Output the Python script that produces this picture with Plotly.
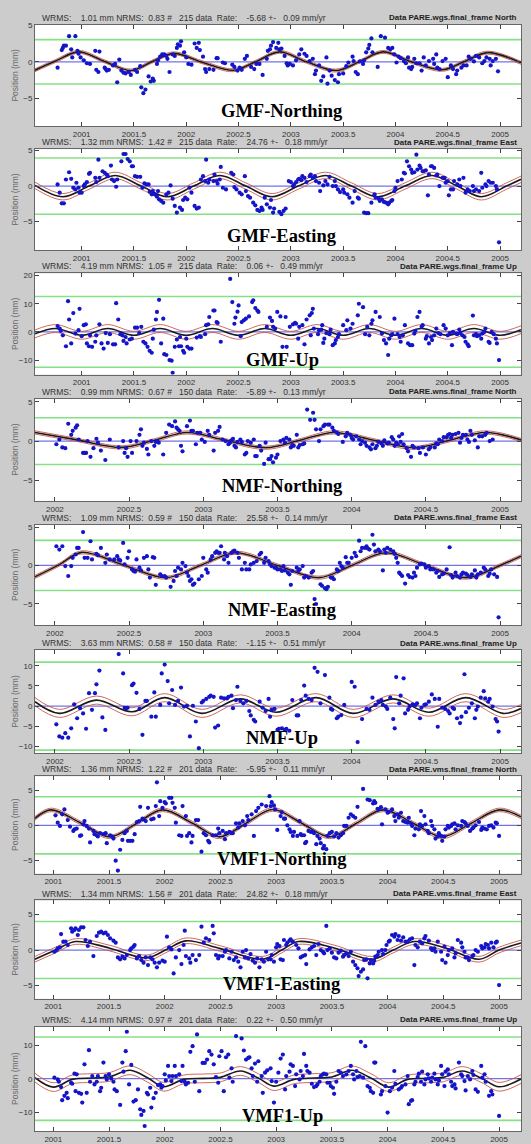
import plotly.graph_objects as go

W, H = 531, 1144

# ---------------- data (decimal year, position in mm) ----------------
GMF_N = [(2000.77,-0.8),(2000.81,1.6),(2000.82,1.9),(2000.83,2.2),(2000.85,2.2),(2000.88,3.5),(2000.94,3.5),(2000.90,1.7),(2000.91,0.6),(2000.96,1.5),(2000.97,1.1),(2000.99,0.6),(2001.02,0.2),(2001.05,-0.2),(2001.08,-0.3),(2001.13,1.5),(2001.17,1.4),(2001.14,-1.1),(2001.16,-1.4),(2001.22,-0.8),(2001.23,-1.0),(2001.24,-1.2),(2001.26,-1.1),(2001.30,-0.5),(2001.32,-0.3),(2001.34,-2.8),(2001.36,0.3),(2001.38,-1.2),(2001.40,-1.5),(2001.42,-1.6),(2001.45,-1.4),(2001.47,-1.8),(2001.51,-1.1),(2001.53,-1.4),(2001.56,-0.6),(2001.57,-3.5),(2001.59,-4.3),(2001.61,-3.8),(2001.64,-2.0),(2001.66,-2.7),(2001.68,-2.3),(2001.69,-2.6),(2001.72,-0.3),(2001.73,0.2),(2001.75,0.7),(2001.77,1.0),(2001.79,1.0),(2001.81,0.8),(2001.82,0.4),(2001.84,-1.4),(2001.87,1.0),(2001.89,0.8),(2001.91,1.9),(2001.92,2.4),(2001.94,2.2),(2001.95,2.8),(2001.98,1.3),(2002.00,0.6),(2002.02,-0.3),(2002.05,-0.4),(2002.08,2.5),(2002.12,2.6),(2002.10,1.9),(2002.13,1.6),(2002.16,0.7),(2002.18,-1.0),(2002.19,-1.4),(2002.22,-1.0),(2002.26,-1.1),(2002.29,0.5),(2002.30,0.5),(2002.35,-0.1),(2002.37,-0.2),(2002.44,-0.4),(2002.46,-0.7),(2002.49,-1.2),(2002.51,-0.8),(2002.53,-1.1),(2002.56,0.4),(2002.58,0.8),(2002.62,-0.7),(2002.65,-1.0),(2002.67,-0.3),(2002.70,-0.3),(2002.73,-1.8),(2002.77,0.4),(2002.78,1.5),(2002.80,1.7),(2002.81,2.2),(2002.83,2.7),(2002.86,1.9),(2002.88,2.6),(2002.89,1.7),(2002.91,1.8),(2002.94,0.8),(2002.96,-0.2),(2002.97,-0.5),(2002.99,-0.3),(2003.02,-0.5),(2003.05,0.2),(2003.08,1.0),(2003.10,1.7),(2003.13,1.1),(2003.15,0.8),(2003.18,0.1),(2003.21,0.4),(2003.23,-1.7),(2003.24,-1.2),(2003.27,-0.5),(2003.29,-2.6),(2003.31,-2.0),(2003.34,0.6),(2003.35,-3.0),(2003.37,-1.2),(2003.39,-1.9),(2003.42,-2.5),(2003.45,-2.8),(2003.46,-1.7),(2003.50,-1.6),(2003.53,-0.6),(2003.55,-0.1),(2003.59,0.7),(2003.60,0.1),(2003.62,-1.4),(2003.64,-1.7),(2003.66,0.05),(2003.69,-0.3),(2003.70,0.2),(2003.72,1.3),(2003.74,1.8),(2003.75,2.3),(2003.77,3.2),(2003.78,1.3),(2003.83,-0.7),(2003.86,3.5),(2003.90,3.3),(2003.93,1.9),(2003.95,1.7),(2003.97,1.9),(2003.99,1.0),(2004.01,-0.1),(2004.03,0.7),(2004.05,0.5),(2004.08,0.1),(2004.10,-0.2),(2004.12,0.6),(2004.13,-0.8),(2004.15,-1.0),(2004.16,-0.7),(2004.18,0.4),(2004.20,-0.2),(2004.23,-0.2),(2004.25,-1.2),(2004.27,0.6),(2004.29,-0.5),(2004.32,0.1),(2004.36,0.4),(2004.37,-0.3),(2004.39,1.0),(2004.40,-0.8),(2004.42,-1.0),(2004.45,0.1),(2004.48,0.4),(2004.50,-2.1),(2004.53,-0.5),(2004.55,-1.0),(2004.58,-1.7),(2004.59,-1.2),(2004.63,-0.8),(2004.65,-0.5),(2004.68,-0.5),(2004.70,0.7),(2004.72,0.4),(2004.75,0.05),(2004.77,0.8),(2004.80,0.6),(2004.83,-0.2),(2004.85,0.1),(2004.87,0.6),(2004.90,0.4),(2004.91,-0.5),(2004.93,0.1),(2004.96,0.4),(2004.98,-1.3)]

GMF_E = [(2000.77,0.23),(2000.79,-0.93),(2000.81,-2.42),(2000.83,-2.42),(2000.85,0.93),(2000.88,1.95),(2000.90,1.02),(2000.92,-0.23),(2000.94,-0.47),(2000.95,0.47),(2000.97,-0.23),(2000.98,-0.93),(2001.00,-0.93),(2001.02,0.0),(2001.03,0.23),(2001.05,0.56),(2001.07,1.72),(2001.08,1.86),(2001.13,1.16),(2001.14,0.56),(2001.16,3.72),(2001.17,1.16),(2001.20,2.09),(2001.22,1.86),(2001.24,1.63),(2001.25,1.4),(2001.28,2.88),(2001.29,0.93),(2001.31,0.7),(2001.33,-0.09),(2001.34,0.93),(2001.38,3.49),(2001.40,4.51),(2001.42,4.51),(2001.44,3.81),(2001.46,3.49),(2001.48,2.79),(2001.49,2.79),(2001.51,1.4),(2001.53,1.3),(2001.56,1.3),(2001.58,-0.23),(2001.60,0.37),(2001.62,0.23),(2001.64,0.23),(2001.65,-0.79),(2001.67,-1.16),(2001.68,-0.7),(2001.70,-1.16),(2001.72,-1.49),(2001.73,-0.7),(2001.74,-1.86),(2001.76,-2.09),(2001.78,-2.33),(2001.81,-1.16),(2001.83,-0.93),(2001.85,0.09),(2001.87,-1.77),(2001.89,-2.79),(2001.91,-3.72),(2001.94,-3.02),(2001.96,-3.35),(2001.97,-1.95),(2001.99,-1.63),(2002.01,-1.86),(2002.03,-0.23),(2002.05,-0.93),(2002.08,-2.79),(2002.10,-3.16),(2002.12,-3.02),(2002.14,0.93),(2002.16,1.4),(2002.18,0.7),(2002.19,3.72),(2002.21,0.47),(2002.22,0.93),(2002.26,0.7),(2002.27,1.63),(2002.29,0.7),(2002.30,0.33),(2002.32,0.93),(2002.33,2.7),(2002.35,-0.23),(2002.38,-0.47),(2002.43,1.86),(2002.45,1.63),(2002.46,-0.14),(2002.48,-0.47),(2002.51,-0.93),(2002.53,-1.16),(2002.56,1.4),(2002.57,-0.7),(2002.59,-1.4),(2002.61,-1.63),(2002.64,-2.33),(2002.66,-2.7),(2002.68,-3.35),(2002.70,-3.49),(2002.72,-3.02),(2002.73,-3.35),(2002.75,-1.63),(2002.77,-2.56),(2002.80,-3.02),(2002.81,-1.95),(2002.83,-3.72),(2002.84,-3.16),(2002.89,-3.63),(2002.91,-3.95),(2002.93,-3.49),(2002.95,-3.16),(2002.98,0.7),(2003.00,0.56),(2003.02,0.0),(2003.03,0.23),(2003.05,0.56),(2003.07,0.93),(2003.08,1.02),(2003.10,0.84),(2003.11,1.4),(2003.13,1.16),(2003.15,0.56),(2003.18,1.4),(2003.19,1.63),(2003.21,1.16),(2003.23,1.4),(2003.24,0.7),(2003.27,0.47),(2003.28,-0.7),(2003.31,0.09),(2003.33,0.7),(2003.35,0.23),(2003.37,1.3),(2003.40,0.0),(2003.42,0.7),(2003.43,0.0),(2003.45,-0.47),(2003.47,-0.84),(2003.50,-0.47),(2003.51,-0.93),(2003.54,-1.16),(2003.56,-1.63),(2003.59,-2.33),(2003.61,-0.7),(2003.64,-1.63),(2003.65,-1.77),(2003.70,-3.72),(2003.72,-3.81),(2003.74,-3.81),(2003.77,-2.33),(2003.80,-1.16),(2003.81,-1.63),(2003.84,-1.77),(2003.85,-2.09),(2003.87,-1.86),(2003.89,-2.23),(2003.91,-2.33),(2003.93,-2.56),(2003.94,-2.33),(2003.96,-2.09),(2003.97,-1.95),(2003.99,-0.7),(2004.00,-0.23),(2004.02,0.7),(2004.06,0.93),(2004.08,1.86),(2004.09,1.77),(2004.11,3.49),(2004.13,2.79),(2004.15,2.33),(2004.16,1.86),(2004.18,1.95),(2004.20,4.42),(2004.21,2.33),(2004.23,2.88),(2004.24,2.56),(2004.26,2.09),(2004.27,2.09),(2004.29,2.23),(2004.31,-1.3),(2004.32,1.63),(2004.34,2.79),(2004.35,2.79),(2004.37,2.56),(2004.39,1.49),(2004.40,1.63),(2004.42,0.0),(2004.45,1.16),(2004.47,1.16),(2004.48,0.47),(2004.50,0.7),(2004.51,-1.3),(2004.53,-0.47),(2004.55,-0.47),(2004.56,0.7),(2004.59,0.23),(2004.61,0.93),(2004.62,0.0),(2004.65,1.16),(2004.67,-0.93),(2004.69,-0.47),(2004.71,-0.7),(2004.74,0.0),(2004.75,-0.7),(2004.77,-0.47),(2004.80,-0.7),(2004.82,1.86),(2004.83,-0.23),(2004.86,0.23),(2004.87,0.0),(2004.89,0.7),(2004.91,0.47),(2004.93,0.47),(2004.96,0.0),(2004.97,-0.47),(2004.99,-7.9)]

GMF_U = [(2000.77,2.1),(2000.79,1.2),(2000.80,0.4),(2000.82,-1.2),(2000.85,-5.1),(2000.87,10.9),(2000.88,4.4),(2000.90,-4.1),(2000.92,6.7),(2000.94,-0.6),(2000.97,0.6),(2000.98,8.2),(2001.00,-1.5),(2001.02,2.4),(2001.04,2.7),(2001.05,-4.1),(2001.07,-5.1),(2001.08,-1.2),(2001.10,-5.3),(2001.13,-3.5),(2001.14,-1.2),(2001.17,2.7),(2001.19,-4.1),(2001.21,-5.9),(2001.23,-0.4),(2001.25,-3.9),(2001.27,-0.8),(2001.30,-4.4),(2001.32,-4.4),(2001.33,10.2),(2001.35,4.4),(2001.37,-0.8),(2001.39,-1.2),(2001.40,-3.2),(2001.42,-1.8),(2001.43,-4.1),(2001.46,-2.7),(2001.48,-2.4),(2001.51,1.5),(2001.53,1.5),(2001.55,-0.4),(2001.57,1.8),(2001.59,-3.5),(2001.61,-4.1),(2001.63,-5.3),(2001.65,-6.7),(2001.67,-7.4),(2001.68,-2.4),(2001.69,0.8),(2001.71,4.4),(2001.72,7.1),(2001.74,11.4),(2001.76,-4.1),(2001.78,4.7),(2001.79,-7.9),(2001.81,-8.2),(2001.84,-10.0),(2001.86,-10.2),(2001.87,-14.5),(2001.89,-5.3),(2001.91,-2.7),(2001.93,-5.1),(2001.94,-1.8),(2001.95,-5.1),(2001.97,-6.7),(2001.98,-7.4),(2002.00,-2.4),(2002.01,-5.3),(2002.03,-5.9),(2002.05,-5.9),(2002.10,-2.0),(2002.13,-1.5),(2002.14,-1.8),(2002.18,-0.8),(2002.19,2.4),(2002.21,2.7),(2002.22,5.3),(2002.26,7.6),(2002.27,7.6),(2002.29,3.5),(2002.30,3.2),(2002.33,-3.5),(2002.42,18.8),(2002.44,10.6),(2002.46,2.9),(2002.47,5.1),(2002.49,7.2),(2002.50,9.4),(2002.52,-1.5),(2002.53,3.5),(2002.55,4.1),(2002.57,4.7),(2002.60,5.5),(2002.63,10.6),(2002.64,11.2),(2002.66,8.5),(2002.68,7.6),(2002.69,7.1),(2002.77,1.8),(2002.80,5.1),(2002.82,3.9),(2002.83,1.8),(2002.85,1.2),(2002.87,7.1),(2002.90,5.5),(2002.92,-5.3),(2002.95,5.3),(2002.96,-5.3),(2002.99,1.8),(2003.02,2.7),(2003.04,3.2),(2003.05,2.9),(2003.07,-2.4),(2003.08,1.8),(2003.11,2.4),(2003.13,-4.4),(2003.15,4.4),(2003.18,5.9),(2003.19,-1.2),(2003.20,6.7),(2003.21,8.2),(2003.22,1.2),(2003.26,-0.8),(2003.27,0.6),(2003.29,0.8),(2003.30,2.4),(2003.31,-3.9),(2003.32,-2.4),(2003.34,-0.4),(2003.37,-0.8),(2003.38,0.8),(2003.40,-4.7),(2003.42,-4.1),(2003.43,-2.9),(2003.45,-1.8),(2003.46,-0.8),(2003.50,2.4),(2003.53,0.6),(2003.54,4.1),(2003.57,1.2),(2003.59,2.9),(2003.64,5.9),(2003.65,10.0),(2003.69,8.8),(2003.71,-0.8),(2003.73,1.8),(2003.75,-1.2),(2003.77,2.9),(2003.78,4.1),(2003.81,7.1),(2003.85,5.3),(2003.87,-0.6),(2003.89,-2.9),(2003.91,-4.1),(2003.93,-8.2),(2003.94,-2.4),(2003.96,-1.2),(2003.97,-0.8),(2003.99,4.7),(2004.02,-0.8),(2004.04,-1.8),(2004.05,-3.5),(2004.07,-1.2),(2004.09,2.4),(2004.12,-4.1),(2004.14,-4.7),(2004.16,-4.7),(2004.18,-0.6),(2004.19,0.4),(2004.21,5.3),(2004.23,7.1),(2004.25,1.8),(2004.26,2.4),(2004.29,-2.4),(2004.30,-1.5),(2004.32,-4.1),(2004.34,-1.8),(2004.35,-2.9),(2004.37,-1.2),(2004.39,1.2),(2004.41,-0.4),(2004.43,-0.8),(2004.46,2.4),(2004.48,1.2),(2004.50,-1.2),(2004.52,-0.4),(2004.54,-4.7),(2004.55,0.0),(2004.58,-0.6),(2004.59,-0.8),(2004.61,0.8),(2004.62,-0.4),(2004.64,-1.2),(2004.66,-1.8),(2004.67,-3.5),(2004.69,-4.4),(2004.70,-5.1),(2004.74,5.8),(2004.75,-1.2),(2004.77,-0.8),(2004.78,-1.5),(2004.80,-1.2),(2004.82,-2.4),(2004.83,-0.6),(2004.85,0.0),(2004.86,1.2),(2004.89,-3.5),(2004.90,-3.9),(2004.92,0.0),(2004.94,-0.8),(2004.96,-2.4),(2004.97,-4.1),(2004.99,-10.0)]

NMF_N = [(2002.01,-0.4),(2002.03,0.2),(2002.05,-0.8),(2002.07,-0.9),(2002.09,2.2),(2002.11,0.8),(2002.12,1.3),(2002.14,1.7),(2002.15,2.0),(2002.16,0.2),(2002.19,-1.5),(2002.20,-1.5),(2002.21,-1.5),(2002.22,0.0),(2002.24,-2.0),(2002.26,-0.9),(2002.28,0.3),(2002.29,-0.2),(2002.31,-1.2),(2002.34,-2.4),(2002.37,0.2),(2002.43,-0.8),(2002.46,0.0),(2002.47,-1.5),(2002.48,-0.9),(2002.49,-2.0),(2002.51,0.0),(2002.52,-1.5),(2002.55,0.0),(2002.57,0.8),(2002.58,1.5),(2002.59,-0.6),(2002.60,-0.2),(2002.62,-1.0),(2002.63,-1.7),(2002.65,0.0),(2002.67,-0.6),(2002.68,-0.1),(2002.69,0.0),(2002.70,-0.2),(2002.73,-1.7),(2002.75,1.05),(2002.77,2.1),(2002.79,1.9),(2002.81,2.5),(2002.82,1.7),(2002.83,1.5),(2002.84,1.3),(2002.85,-0.6),(2002.86,-1.3),(2002.89,1.9),(2002.91,2.6),(2002.92,1.3),(2002.93,1.3),(2002.95,-0.4),(2002.96,1.05),(2002.98,1.05),(2002.99,0.2),(2003.01,-0.1),(2003.03,1.3),(2003.04,0.8),(2003.07,-1.2),(2003.08,1.05),(2003.10,1.3),(2003.11,1.8),(2003.13,0.2),(2003.15,0.0),(2003.17,-0.4),(2003.18,-0.2),(2003.19,0.1),(2003.20,0.3),(2003.21,-0.6),(2003.22,-0.8),(2003.23,-0.1),(2003.25,0.2),(2003.26,-0.1),(2003.28,-1.7),(2003.29,-1.5),(2003.30,0.0),(2003.32,-0.2),(2003.34,0.2),(2003.35,-1.9),(2003.36,-1.9),(2003.38,-0.6),(2003.39,-1.2),(2003.41,-2.9),(2003.42,-0.2),(2003.44,-2.3),(2003.45,-2.3),(2003.46,-1.9),(2003.47,-2.7),(2003.49,-2.1),(2003.50,-1.7),(2003.52,0.0),(2003.54,0.2),(2003.55,-0.2),(2003.56,0.4),(2003.58,0.2),(2003.59,-0.8),(2003.60,-0.5),(2003.61,-0.6),(2003.63,0.8),(2003.64,-0.8),(2003.65,-0.5),(2003.67,-0.4),(2003.68,-0.3),(2003.70,4.0),(2003.72,2.7),(2003.74,3.6),(2003.75,2.7),(2003.76,1.5),(2003.78,0.0),(2003.79,1.5),(2003.81,1.9),(2003.82,2.1),(2003.84,2.1),(2003.85,2.1),(2003.87,1.7),(2003.88,1.3),(2003.90,1.1),(2003.91,0.9),(2003.94,-0.1),(2003.96,0.6),(2003.97,1.05),(2003.99,0.8),(2004.00,0.4),(2004.01,0.2),(2004.03,0.6),(2004.05,0.2),(2004.06,-0.4),(2004.07,0.0),(2004.09,-0.2),(2004.10,-0.6),(2004.12,-0.8),(2004.13,-1.05),(2004.14,-0.4),(2004.16,-0.9),(2004.17,-0.6),(2004.18,-0.1),(2004.20,-0.3),(2004.21,-0.6),(2004.22,0.1),(2004.24,-0.3),(2004.25,-0.2),(2004.27,0.5),(2004.28,0.2),(2004.29,-0.6),(2004.30,-0.2),(2004.31,-0.4),(2004.32,0.6),(2004.33,-0.1),(2004.34,0.9),(2004.35,-0.4),(2004.37,-0.9),(2004.38,-1.3),(2004.40,-2.0),(2004.41,-0.6),(2004.42,-0.8),(2004.45,-0.9),(2004.46,-1.5),(2004.48,-0.8),(2004.50,-1.7),(2004.52,-1.05),(2004.53,-0.8),(2004.56,-0.8),(2004.57,-0.3),(2004.58,-0.4),(2004.59,0.2),(2004.61,0.0),(2004.62,0.5),(2004.64,0.5),(2004.65,0.8),(2004.66,0.9),(2004.67,0.4),(2004.68,0.8),(2004.70,0.9),(2004.72,1.05),(2004.73,-0.2),(2004.74,0.4),(2004.75,0.8),(2004.77,0.8),(2004.78,0.2),(2004.79,-0.1),(2004.80,1.3),(2004.81,0.8),(2004.83,0.1),(2004.85,-0.8),(2004.86,0.6),(2004.88,0.6),(2004.90,0.8),(2004.91,1.05),(2004.93,0.0),(2004.95,0.2)]

NMF_E = [(2002.01,2.5),(2002.03,2.07),(2002.05,2.5),(2002.07,-0.09),(2002.09,-1.38),(2002.11,-0.09),(2002.12,0.99),(2002.14,1.42),(2002.15,2.28),(2002.16,2.28),(2002.19,4.35),(2002.20,0.99),(2002.22,0.99),(2002.24,3.15),(2002.25,0.78),(2002.28,1.51),(2002.29,1.34),(2002.31,2.28),(2002.34,0.34),(2002.35,1.42),(2002.37,0.78),(2002.40,0.78),(2002.42,1.21),(2002.43,0.78),(2002.44,0.65),(2002.46,2.93),(2002.47,0.13),(2002.49,0.99),(2002.50,1.85),(2002.52,-0.52),(2002.53,-0.73),(2002.54,-0.82),(2002.55,0.78),(2002.57,-0.3),(2002.58,-0.65),(2002.60,0.99),(2002.62,1.21),(2002.63,-0.52),(2002.64,-1.59),(2002.66,1.08),(2002.67,0.99),(2002.68,-2.54),(2002.71,-1.16),(2002.72,-1.38),(2002.74,-1.38),(2002.75,-1.59),(2002.78,-2.8),(2002.80,-2.03),(2002.81,-0.73),(2002.82,-1.38),(2002.83,-0.3),(2002.85,-0.52),(2002.86,0.34),(2002.88,-0.09),(2002.89,-0.95),(2002.90,-1.38),(2002.91,-2.03),(2002.92,-1.81),(2002.93,-2.54),(2002.94,-2.37),(2002.97,-1.81),(2002.99,-1.38),(2003.00,0.99),(2003.02,-0.52),(2003.03,-0.95),(2003.05,0.78),(2003.06,1.21),(2003.08,1.64),(2003.09,1.85),(2003.10,1.64),(2003.11,1.64),(2003.12,2.5),(2003.14,0.78),(2003.145,1.64),(2003.16,1.21),(2003.17,0.34),(2003.19,1.64),(2003.20,1.85),(2003.21,1.94),(2003.23,1.64),(2003.24,0.99),(2003.26,-0.52),(2003.28,0.34),(2003.29,-0.52),(2003.31,-0.52),(2003.32,0.13),(2003.34,0.34),(2003.36,0.56),(2003.38,1.42),(2003.39,1.64),(2003.41,0.34),(2003.42,0.99),(2003.44,0.56),(2003.45,0.13),(2003.46,-0.09),(2003.48,-0.3),(2003.49,-0.3),(2003.50,-0.52),(2003.52,-0.52),(2003.53,-0.73),(2003.54,-0.09),(2003.55,-0.65),(2003.57,-0.95),(2003.58,-1.16),(2003.59,-2.54),(2003.60,-0.73),(2003.63,-0.3),(2003.64,-0.73),(2003.65,-0.52),(2003.67,-0.09),(2003.68,-1.59),(2003.69,-1.38),(2003.71,-1.59),(2003.73,-0.95),(2003.74,-0.73),(2003.75,-4.4),(2003.76,-5.04),(2003.79,-2.46),(2003.80,-2.67),(2003.82,-2.97),(2003.83,-3.1),(2003.84,-2.8),(2003.86,-1.59),(2003.87,-1.59),(2003.88,-1.81),(2003.90,-0.52),(2003.91,-0.73),(2003.92,0.34),(2003.93,-0.09),(2003.94,-0.3),(2003.96,1.08),(2003.97,0.34),(2003.98,0.34),(2004.00,0.99),(2004.02,1.64),(2004.03,1.21),(2004.05,3.23),(2004.06,1.85),(2004.07,2.28),(2004.09,2.28),(2004.10,2.5),(2004.11,2.2),(2004.12,2.07),(2004.14,4.0),(2004.15,2.72),(2004.16,1.85),(2004.18,2.07),(2004.19,1.85),(2004.21,-0.65),(2004.22,2.07),(2004.23,1.64),(2004.24,2.28),(2004.26,2.07),(2004.28,1.85),(2004.29,1.51),(2004.30,0.99),(2004.31,0.34),(2004.32,-0.95),(2004.33,-1.16),(2004.34,-1.38),(2004.36,-2.37),(2004.38,-1.25),(2004.39,-1.51),(2004.41,-1.59),(2004.42,-0.95),(2004.43,-1.38),(2004.44,-0.3),(2004.46,0.13),(2004.47,0.22),(2004.49,0.13),(2004.50,-0.3),(2004.52,-0.09),(2004.53,-0.52),(2004.55,-0.52),(2004.57,-0.95),(2004.58,-0.73),(2004.59,-1.51),(2004.61,-1.16),(2004.62,-1.08),(2004.64,-0.52),(2004.66,2.37),(2004.67,-1.25),(2004.68,-1.59),(2004.70,-0.95),(2004.71,-1.38),(2004.73,-1.59),(2004.74,-1.16),(2004.75,-0.95),(2004.77,-1.08),(2004.78,-1.25),(2004.80,-1.51),(2004.81,-1.16),(2004.83,-0.65),(2004.84,-1.59),(2004.85,-1.16),(2004.87,-0.95),(2004.89,-0.3),(2004.90,-0.52),(2004.92,-1.38),(2004.93,-1.08),(2004.94,-0.52),(2004.96,-1.16),(2004.98,-1.51),(2004.99,-6.77)]

NMF_U = [(2002.01,-4.5),(2002.03,-7.5),(2002.05,-7.8),(2002.07,-6.7),(2002.09,-7.8),(2002.11,-5.5),(2002.13,0.45),(2002.15,-3.0),(2002.17,-0.5),(2002.19,-1.8),(2002.21,-5.6),(2002.23,3.2),(2002.25,-0.9),(2002.27,3.2),(2002.28,5.4),(2002.30,8.8),(2002.32,-2.8),(2002.34,-5.9),(2002.43,12.9),(2002.46,8.1),(2002.47,-0.4),(2002.48,-0.5),(2002.49,-0.4),(2002.52,5.2),(2002.53,5.6),(2002.55,3.3),(2002.57,-0.7),(2002.59,-7.1),(2002.61,1.3),(2002.62,1.3),(2002.65,-2.6),(2002.67,3.4),(2002.68,-2.6),(2002.71,0.3),(2002.72,8.1),(2002.74,10.3),(2002.76,6.2),(2002.77,0.7),(2002.79,4.0),(2002.81,0.3),(2002.83,1.3),(2002.85,4.6),(2002.87,-0.1),(2002.89,0.1),(2002.91,-7.5),(2002.93,0.1),(2002.95,-3.8),(2002.97,-10.4),(2002.99,0.9),(2003.00,1.3),(2003.02,1.8),(2003.04,2.3),(2003.05,2.6),(2003.07,2.3),(2003.08,-5.3),(2003.10,-4.8),(2003.12,2.1),(2003.14,1.9),(2003.16,1.9),(2003.17,2.3),(2003.19,2.6),(2003.20,-0.5),(2003.22,1.5),(2003.23,4.8),(2003.25,1.3),(2003.27,0.7),(2003.29,1.3),(2003.31,-1.2),(2003.32,-2.3),(2003.34,-3.4),(2003.35,-3.8),(2003.38,1.1),(2003.40,-0.4),(2003.42,-1.2),(2003.44,1.8),(2003.45,-2.6),(2003.46,-0.9),(2003.48,-0.7),(2003.50,-5.9),(2003.51,-5.6),(2003.53,-5.5),(2003.55,-5.9),(2003.56,-5.6),(2003.58,-6.1),(2003.60,1.5),(2003.63,-2.3),(2003.64,-2.3),(2003.66,1.5),(2003.68,5.1),(2003.69,2.6),(2003.71,1.8),(2003.73,1.5),(2003.75,9.5),(2003.77,8.5),(2003.79,0.7),(2003.82,7.7),(2003.85,2.1),(2003.86,-0.7),(2003.87,-0.9),(2003.90,-3.0),(2003.91,-2.6),(2003.93,-2.2),(2003.95,0.3),(2004.00,6.0),(2004.02,4.8),(2004.04,-8.9),(2004.07,-3.2),(2004.10,-0.7),(2004.12,-0.9),(2004.14,2.1),(2004.16,0.3),(2004.18,1.1),(2004.20,1.5),(2004.21,0.3),(2004.23,-0.1),(2004.24,-0.7),(2004.26,2.1),(2004.28,-3.2),(2004.29,-5.5),(2004.30,7.2),(2004.32,0.7),(2004.33,2.6),(2004.35,6.9),(2004.36,-1.8),(2004.38,-0.9),(2004.39,-0.1),(2004.41,0.45),(2004.43,0.3),(2004.44,0.7),(2004.46,-3.0),(2004.47,-0.4),(2004.49,0.3),(2004.50,0.45),(2004.52,1.1),(2004.54,2.9),(2004.56,1.8),(2004.58,-5.1),(2004.59,1.8),(2004.61,-0.4),(2004.63,-0.7),(2004.65,-1.2),(2004.66,-1.8),(2004.68,-0.4),(2004.69,-0.7),(2004.71,-3.0),(2004.73,-4.2),(2004.74,-2.6),(2004.76,7.9),(2004.77,-1.5),(2004.79,-0.4),(2004.81,0.7),(2004.83,-3.0),(2004.84,-0.9),(2004.85,-0.1),(2004.87,2.1),(2004.89,3.7),(2004.90,1.9),(2004.92,1.1),(2004.93,1.8),(2004.95,-0.1),(2004.97,-3.2),(2004.98,-3.8),(2004.99,-6.3)]

VMF_N = [(2001.02,1.42),(2001.04,0.38),(2001.06,-0.09),(2001.08,1.56),(2001.10,2.26),(2001.13,0.75),(2001.15,-0.19),(2001.18,-0.8),(2001.19,-0.57),(2001.21,-0.47),(2001.24,-1.51),(2001.25,-1.42),(2001.27,0.14),(2001.28,0.61),(2001.30,-0.09),(2001.32,-0.47),(2001.33,-2.45),(2001.36,-0.8),(2001.37,-1.27),(2001.39,-1.42),(2001.40,-1.6),(2001.42,-1.13),(2001.45,-1.27),(2001.47,-1.13),(2001.48,-2.55),(2001.51,-1.42),(2001.53,-1.6),(2001.54,-1.89),(2001.56,-5.05),(2001.58,-6.46),(2001.60,-3.49),(2001.62,-2.08),(2001.64,-1.13),(2001.66,-0.8),(2001.67,-2.22),(2001.69,-2.22),(2001.71,-2.22),(2001.73,-1.27),(2001.75,0.47),(2001.77,0.61),(2001.78,2.64),(2001.80,0.94),(2001.81,0.85),(2001.83,0.61),(2001.85,2.5),(2001.88,0.85),(2001.90,0.94),(2001.92,2.74),(2001.93,6.13),(2001.95,1.32),(2001.96,3.44),(2001.98,2.5),(2002.00,3.3),(2002.01,3.11),(2002.04,3.92),(2002.06,3.92),(2002.07,3.21),(2002.09,2.5),(2002.10,0.38),(2002.13,-1.42),(2002.15,-1.51),(2002.16,2.74),(2002.19,1.32),(2002.20,-1.51),(2002.22,-1.13),(2002.24,-2.45),(2002.25,-1.51),(2002.28,0.75),(2002.30,0.75),(2002.33,-3.77),(2002.35,-1.13),(2002.37,-1.42),(2002.39,-2.22),(2002.40,-2.45),(2002.43,-1.42),(2002.46,-1.42),(2002.48,-0.47),(2002.49,-1.13),(2002.52,-0.8),(2002.54,-1.98),(2002.55,-1.13),(2002.58,-0.94),(2002.60,-1.13),(2002.61,-1.13),(2002.64,0.28),(2002.66,-0.33),(2002.67,0.28),(2002.70,0.61),(2002.72,0.0),(2002.74,1.32),(2002.75,0.75),(2002.78,1.56),(2002.80,-1.51),(2002.82,2.03),(2002.84,2.5),(2002.87,2.97),(2002.91,2.74),(2002.94,4.15),(2002.95,2.74),(2002.96,3.3),(2002.98,2.83),(2002.99,2.26),(2003.01,-0.66),(2003.04,1.32),(2003.05,1.89),(2003.07,0.94),(2003.08,0.94),(2003.10,0.0),(2003.12,-0.57),(2003.13,-0.94),(2003.15,-1.51),(2003.16,-0.94),(2003.19,-1.51),(2003.21,0.61),(2003.22,-1.27),(2003.23,-1.42),(2003.25,-1.42),(2003.26,-2.55),(2003.27,-2.36),(2003.29,-0.8),(2003.31,-0.94),(2003.33,-0.94),(2003.34,-1.13),(2003.36,-2.69),(2003.37,-1.51),(2003.39,-1.89),(2003.40,-2.55),(2003.42,-3.3),(2003.43,-2.92),(2003.45,-3.4),(2003.46,-1.51),(2003.48,-1.13),(2003.50,-0.94),(2003.52,-1.6),(2003.54,-1.13),(2003.56,-1.75),(2003.58,-1.42),(2003.60,-1.13),(2003.61,-0.09),(2003.63,-0.09),(2003.65,1.08),(2003.67,1.56),(2003.69,1.32),(2003.71,1.08),(2003.73,2.64),(2003.78,5.19),(2003.82,3.68),(2003.84,3.58),(2003.87,3.11),(2003.88,3.44),(2003.89,3.21),(2003.91,2.36),(2003.92,2.26),(2003.94,2.59),(2003.95,0.14),(2003.98,2.26),(2004.00,1.79),(2004.01,1.89),(2004.04,2.26),(2004.06,1.32),(2004.07,0.61),(2004.09,1.56),(2004.10,1.08),(2004.12,1.79),(2004.14,0.61),(2004.16,0.47),(2004.18,0.38),(2004.19,1.08),(2004.21,0.28),(2004.22,-0.09),(2004.24,-1.42),(2004.25,-0.47),(2004.28,-0.57),(2004.29,0.14),(2004.30,2.03),(2004.31,-0.09),(2004.33,1.32),(2004.34,0.14),(2004.36,-0.8),(2004.37,-1.13),(2004.39,0.61),(2004.40,-0.09),(2004.42,-0.57),(2004.43,-1.89),(2004.45,-1.6),(2004.46,-1.13),(2004.48,-1.51),(2004.49,-2.22),(2004.51,-1.6),(2004.52,-0.57),(2004.54,-0.09),(2004.55,-0.33),(2004.57,-0.09),(2004.58,0.14),(2004.60,0.28),(2004.61,-0.57),(2004.63,0.0),(2004.66,-0.09),(2004.67,0.61),(2004.69,0.47),(2004.70,0.28),(2004.72,-0.09),(2004.74,-0.8),(2004.76,-0.47),(2004.77,-0.33),(2004.79,0.0),(2004.82,0.47),(2004.84,-0.66),(2004.85,-0.33),(2004.87,-0.47),(2004.89,-0.57),(2004.91,-0.09),(2004.93,0.0),(2004.95,-0.33),(2004.97,0.38),(2004.98,0.28),(2005.00,-1.51)]

VMF_E = [(2001.01,-0.24),(2001.03,0.0),(2001.04,0.24),(2001.06,0.38),(2001.07,2.26),(2001.09,1.18),(2001.11,1.18),(2001.13,0.71),(2001.16,3.07),(2001.17,2.59),(2001.19,2.83),(2001.20,3.07),(2001.22,2.12),(2001.23,2.83),(2001.25,3.21),(2001.27,3.21),(2001.29,1.42),(2001.31,0.57),(2001.33,1.18),(2001.36,-0.85),(2001.39,1.98),(2001.41,2.45),(2001.43,2.59),(2001.45,2.36),(2001.47,2.45),(2001.49,2.12),(2001.51,1.65),(2001.54,1.32),(2001.56,1.04),(2001.58,-1.04),(2001.60,-1.32),(2001.62,-0.94),(2001.64,-1.18),(2001.66,-0.71),(2001.69,0.0),(2001.70,0.24),(2001.72,0.47),(2001.73,0.71),(2001.75,-1.18),(2001.77,-0.85),(2001.79,-1.42),(2001.81,-1.79),(2001.83,-1.04),(2001.85,-2.12),(2001.87,-1.04),(2001.89,-1.32),(2001.91,-1.79),(2001.93,-2.45),(2001.95,-1.79),(2001.98,-1.51),(2002.00,-1.65),(2002.02,1.89),(2002.04,0.38),(2002.06,0.09),(2002.08,-3.3),(2002.10,-1.04),(2002.13,0.0),(2002.15,-1.98),(2002.17,0.71),(2002.18,2.74),(2002.19,-0.85),(2002.22,-1.18),(2002.23,-1.79),(2002.25,-0.71),(2002.28,-1.42),(2002.31,-0.71),(2002.33,3.3),(2002.35,1.04),(2002.37,1.65),(2002.40,1.42),(2002.43,3.4),(2002.44,2.36),(2002.46,-0.71),(2002.48,-1.18),(2002.49,-0.85),(2002.52,-0.85),(2002.54,-0.24),(2002.55,0.0),(2002.58,-1.18),(2002.60,-0.24),(2002.62,-1.42),(2002.64,-1.04),(2002.66,-1.65),(2002.68,-2.45),(2002.70,-0.24),(2002.72,-1.04),(2002.73,0.0),(2002.75,-1.18),(2002.77,-0.57),(2002.79,-1.51),(2002.81,-1.79),(2002.83,-1.18),(2002.85,-2.45),(2002.87,-1.32),(2002.89,-1.65),(2002.91,-0.24),(2002.93,-1.32),(2002.95,-1.32),(2002.96,-0.71),(2002.98,-1.65),(2003.00,0.38),(2003.01,0.85),(2003.03,0.57),(2003.04,-1.32),(2003.06,-1.42),(2003.07,1.42),(2003.09,0.71),(2003.10,1.04),(2003.12,1.32),(2003.13,1.51),(2003.15,1.18),(2003.18,0.71),(2003.20,0.24),(2003.22,-1.04),(2003.24,-0.85),(2003.26,-0.71),(2003.27,-1.98),(2003.30,0.09),(2003.32,0.38),(2003.34,0.57),(2003.36,-0.71),(2003.38,0.85),(2003.40,0.0),(2003.42,-0.24),(2003.43,-0.47),(2003.45,3.4),(2003.46,0.0),(2003.48,0.24),(2003.50,-0.38),(2003.52,-1.04),(2003.54,-1.18),(2003.56,-0.38),(2003.58,-0.09),(2003.60,-0.94),(2003.61,-0.71),(2003.63,-0.47),(2003.65,-0.85),(2003.67,-0.24),(2003.69,-1.65),(2003.71,-2.12),(2003.73,-2.59),(2003.74,-3.68),(2003.76,-3.07),(2003.78,-2.74),(2003.79,-1.42),(2003.81,-1.32),(2003.82,-4.0),(2003.84,-1.89),(2003.85,-1.42),(2003.87,-1.89),(2003.88,-1.51),(2003.89,-0.94),(2003.91,-0.71),(2003.92,-0.24),(2003.95,0.0),(2003.96,-0.57),(2003.98,0.0),(2003.99,0.71),(2004.01,1.18),(2004.02,1.32),(2004.04,2.12),(2004.06,1.89),(2004.07,2.26),(2004.09,1.42),(2004.10,1.98),(2004.12,1.32),(2004.14,1.79),(2004.16,1.18),(2004.18,1.18),(2004.20,1.51),(2004.22,1.65),(2004.24,-2.12),(2004.25,0.71),(2004.27,0.38),(2004.29,1.18),(2004.31,0.94),(2004.33,1.65),(2004.34,1.98),(2004.37,1.32),(2004.39,0.24),(2004.40,0.0),(2004.42,0.24),(2004.43,-0.24),(2004.45,1.18),(2004.48,-0.24),(2004.49,-1.42),(2004.51,0.47),(2004.52,-1.79),(2004.54,-0.71),(2004.55,0.0),(2004.58,0.24),(2004.60,-1.04),(2004.61,-0.47),(2004.63,1.42),(2004.66,1.04),(2004.67,0.38),(2004.69,-0.24),(2004.70,-1.04),(2004.72,-1.04),(2004.73,-1.42),(2004.76,-0.85),(2004.77,-0.71),(2004.79,0.0),(2004.81,-0.24),(2004.84,0.57),(2004.85,0.24),(2004.87,0.38),(2004.88,0.85),(2004.90,0.71),(2004.91,0.24),(2004.93,1.04),(2004.95,0.38),(2004.97,1.04),(2004.98,1.18),(2005.00,-4.95)]

VMF_U = [(2001.01,0.3),(2001.04,-0.2),(2001.05,-0.9),(2001.07,-2.5),(2001.08,-6.4),(2001.10,-5.1),(2001.12,-4.2),(2001.13,-5.8),(2001.16,-1.2),(2001.17,-1.5),(2001.19,1.5),(2001.20,-3.7),(2001.21,1.3),(2001.23,-4.2),(2001.25,-4.5),(2001.26,-7.1),(2001.28,4.3),(2001.30,-4.2),(2001.32,8.5),(2001.33,-0.9),(2001.35,0.8),(2001.37,-1.7),(2001.39,-0.9),(2001.40,0.8),(2001.42,-3.7),(2001.43,-2.7),(2001.45,4.8),(2001.47,0.8),(2001.48,-0.2),(2001.50,1.3),(2001.52,0.1),(2001.54,-0.9),(2001.55,-3.2),(2001.57,-3.7),(2001.60,-7.8),(2001.62,4.8),(2001.63,2.1),(2001.65,8.2),(2001.66,14.0),(2001.68,-1.7),(2001.70,4.1),(2001.72,-6.8),(2001.74,-6.4),(2001.76,-3.2),(2001.78,-9.1),(2001.79,-10.8),(2001.81,-9.6),(2001.82,-14.1),(2001.84,-4.2),(2001.85,-4.7),(2001.87,-2.7),(2001.88,-8.6),(2001.90,-5.8),(2001.92,-4.2),(2001.94,-1.9),(2001.96,-1.7),(2001.97,-2.7),(2001.98,-2.2),(2002.00,1.3),(2002.01,-0.5),(2002.03,3.8),(2002.04,0.8),(2002.06,-0.7),(2002.07,0.8),(2002.09,3.8),(2002.10,0.8),(2002.13,1.3),(2002.15,-0.7),(2002.16,3.8),(2002.18,-0.9),(2002.19,-1.7),(2002.21,-1.2),(2002.23,8.0),(2002.25,9.7),(2002.27,-0.9),(2002.29,13.2),(2002.31,-3.7),(2002.34,4.7),(2002.36,4.7),(2002.38,5.7),(2002.40,8.2),(2002.42,7.2),(2002.44,4.3),(2002.46,0.5),(2002.48,-1.2),(2002.49,6.7),(2002.51,8.2),(2002.53,-3.7),(2002.55,6.4),(2002.57,7.2),(2002.58,0.3),(2002.60,3.1),(2002.61,-0.9),(2002.64,12.7),(2002.69,12.0),(2002.71,8.4),(2002.73,5.7),(2002.75,6.2),(2002.76,6.4),(2002.78,3.1),(2002.79,0.8),(2002.81,4.5),(2002.83,-0.9),(2002.84,5.2),(2002.87,0.8),(2002.88,-4.2),(2002.90,1.8),(2002.92,2.5),(2002.95,3.1),(2002.96,-0.7),(2002.98,-7.1),(2003.00,-0.9),(2003.02,1.8),(2003.04,6.0),(2003.06,7.2),(2003.08,-3.2),(2003.09,0.8),(2003.12,2.1),(2003.13,4.3),(2003.15,3.8),(2003.17,-2.2),(2003.18,1.3),(2003.21,-0.2),(2003.22,2.3),(2003.24,0.8),(2003.25,7.4),(2003.27,3.8),(2003.28,2.3),(2003.30,1.8),(2003.32,-1.5),(2003.34,-2.5),(2003.36,-2.2),(2003.37,-1.7),(2003.39,-0.9),(2003.40,0.8),(2003.42,1.3),(2003.43,1.5),(2003.45,1.3),(2003.46,-1.2),(2003.48,-1.2),(2003.49,-2.2),(2003.51,-2.7),(2003.52,-4.5),(2003.54,-0.9),(2003.56,2.3),(2003.58,1.8),(2003.60,0.8),(2003.63,1.3),(2003.65,2.3),(2003.67,3.8),(2003.69,1.3),(2003.70,-0.2),(2003.72,2.3),(2003.73,0.5),(2003.75,0.8),(2003.76,11.0),(2003.78,0.3),(2003.80,9.7),(2003.82,-2.2),(2003.84,-2.7),(2003.85,-3.7),(2003.87,-4.2),(2003.88,4.8),(2003.89,4.8),(2003.94,-4.7),(2003.95,-3.7),(2003.98,-2.2),(2004.00,-10.1),(2004.02,-3.7),(2004.04,-2.7),(2004.06,2.3),(2004.07,-1.5),(2004.10,-3.2),(2004.12,-2.7),(2004.13,-2.2),(2004.16,-1.7),(2004.18,0.8),(2004.19,-7.6),(2004.21,-6.6),(2004.22,-6.4),(2004.24,-1.7),(2004.25,-0.9),(2004.27,0.5),(2004.28,1.5),(2004.30,-0.9),(2004.31,2.1),(2004.33,-1.7),(2004.34,-0.2),(2004.36,1.3),(2004.37,0.1),(2004.39,-0.9),(2004.40,0.3),(2004.42,1.5),(2004.43,-0.2),(2004.45,-1.7),(2004.46,-0.5),(2004.48,3.8),(2004.49,1.3),(2004.51,-2.2),(2004.52,2.1),(2004.54,2.8),(2004.55,1.3),(2004.57,-0.9),(2004.58,-2.2),(2004.60,-1.7),(2004.61,-2.9),(2004.64,4.8),(2004.66,1.3),(2004.67,0.8),(2004.69,-0.7),(2004.70,-3.5),(2004.72,0.8),(2004.74,-0.2),(2004.76,2.3),(2004.77,1.1),(2004.79,-3.2),(2004.81,-3.9),(2004.84,3.8),(2004.85,0.3),(2004.87,1.3),(2004.88,-0.9),(2004.91,-5.1),(2004.93,-3.7),(2004.94,-4.7),(2005.00,-11.1)]

# fitted model curves, read at their peaks, troughs and crossings
FIT_GMF_N = [(2000.554,-1.15),(2000.75,0.1),(2000.97,1.35),(2001.22,0.05),(2001.47,-1.2),(2001.67,0.0),(2001.88,1.15),(2002.15,-0.05),(2002.45,-1.15),(2002.67,0.05),(2002.89,1.35),(2003.15,0.0),(2003.43,-1.2),(2003.66,0.05),(2003.88,1.35),(2004.15,0.0),(2004.45,-1.1),(2004.66,0.05),(2004.88,1.25),(2005.2,-0.15)]
FIT_GMF_E = [(2000.554,0.1),(2000.82,-1.5),(2001.07,0.0),(2001.32,1.5),(2001.57,0.0),(2001.82,-1.5),(2002.07,0.0),(2002.32,1.5),(2002.57,0.0),(2002.82,-1.5),(2003.07,0.0),(2003.33,1.5),(2003.58,0.0),(2003.83,-1.5),(2004.09,0.0),(2004.35,1.5),(2004.59,0.0),(2004.82,-1.5),(2005.06,0.0),(2005.2,0.95)]
FIT_GMF_U = [(2000.554,-0.7),(2000.75,1.2),(2001.0,-1.2),(2001.25,1.2),(2001.5,-1.2),(2001.75,1.2),(2002.0,-1.2),(2002.25,1.2),(2002.5,-1.2),(2002.75,1.2),(2003.0,-1.2),(2003.25,1.2),(2003.5,-1.2),(2003.75,1.2),(2004.0,-1.2),(2004.25,1.2),(2004.5,-1.2),(2004.75,1.2),(2005.0,-1.2),(2005.2,0.8)]
FIT_NMF_N = [(2001.866,1.1),(2002.15,0.15),(2002.45,-0.8),(2002.67,0.1),(2002.89,1.1),(2003.15,0.1),(2003.42,-0.85),(2003.65,0.1),(2003.88,1.1),(2004.15,0.1),(2004.42,-0.85),(2004.66,0.1),(2004.9,1.1),(2005.141,0.15)]
FIT_NMF_E = [(2001.866,-1.5),(2002.03,0.1),(2002.18,1.7),(2002.47,0.0),(2002.75,-1.6),(2002.98,0.0),(2003.22,1.65),(2003.5,0.0),(2003.78,-1.6),(2004.0,0.0),(2004.23,1.65),(2004.5,0.0),(2004.77,-1.6),(2005.0,0.0),(2005.141,1.2)]
FIT_NMF_U = [(2001.866,1.1),(2002.03,-1.8),(2002.28,1.5),(2002.52,-1.4),(2002.74,2.1),(2002.99,-1.8),(2003.25,1.8),(2003.49,-1.5),(2003.76,2.1),(2004.01,-1.8),(2004.28,1.8),(2004.52,-1.5),(2004.77,2.1),(2005.02,-1.8),(2005.141,-0.6)]
FIT_VMF_N = [(2000.836,1.0),(2000.98,2.2),(2001.25,0.3),(2001.51,-1.65),(2001.75,0.3),(2001.98,2.2),(2002.25,0.3),(2002.49,-1.65),(2002.73,0.3),(2002.97,2.25),(2003.23,0.3),(2003.48,-1.65),(2003.72,0.3),(2003.96,2.2),(2004.23,0.3),(2004.49,-1.65),(2004.75,0.3),(2005.0,2.2),(2005.197,1.2)]
FIT_VMF_E = [(2000.836,-1.3),(2001.02,0.0),(2001.2,1.2),(2001.5,0.3),(2001.84,-1.1),(2002.02,0.1),(2002.19,1.3),(2002.5,0.2),(2002.88,-1.3),(2003.05,0.0),(2003.2,1.2),(2003.52,0.3),(2003.86,-1.3),(2004.05,0.0),(2004.24,1.2),(2004.52,0.3),(2004.82,-1.3),(2005.0,0.0),(2005.197,1.0)]
FIT_VMF_U = [(2000.836,0.3),(2001.0,-2.5),(2001.17,-0.2),(2001.35,0.2),(2001.5,0.5),(2001.69,2.5),(2001.85,0.2),(2001.99,-2.4),(2002.17,-0.2),(2002.35,0.1),(2002.5,0.4),(2002.68,2.3),(2002.84,0.2),(2002.98,-2.2),(2003.16,-0.2),(2003.34,0.2),(2003.5,0.5),(2003.68,2.5),(2003.85,0.2),(2004.01,-2.5),(2004.18,-0.2),(2004.36,0.1),(2004.5,0.4),(2004.67,2.3),(2004.84,0.2),(2005.0,-2.4),(2005.197,-0.1)]

# model uncertainty (half width of red band) and 3-sigma limits (green), mm
BAND = [0.2, 0.45, 1.4, 0.2, 0.2, 1.0, 0.25, 0.4, 1.3]
SIGMA3 = [3.03, 3.96, 12.57, 2.97, 3.27, 10.89, 4.08, 4.02, 12.42]

# x tick values (years) for the three station solutions
TICKS_A = [2001, 2001.5, 2002, 2002.5, 2003, 2003.5, 2004, 2004.5, 2005]
TICKS_B = [2002, 2002.5, 2003, 2003.5, 2004, 2004.5, 2005]

LABELS = ["GMF-Northing", "GMF-Easting", "GMF-Up", "NMF-Northing", "NMF-Easting", "NMF-Up",
          "VMF1-Northing", "VMF1-Easting", "VMF1-Up"]
WRMS = ["1.01", "1.32", "4.19", "0.99", "1.09", "3.63", "1.36", "1.34", "4.14"]
NRMS = ["0.83", "1.42", "1.05", "0.67", "0.59", "0.58", "1.22", "1.56", "0.97"]
NDATA = ["215", "215", "215", "150", "150", "150", "201", "201", "201"]
RATE = ["-5.68", "24.76", "0.06", "-5.89", "25.58", "-1.15", "-5.95", "24.82", "0.22"]
RATE_ERR = ["0.09", "0.18", "0.49", "0.13", "0.14", "0.51", "0.11", "0.18", "0.50"]
SOURCE = ["Data PARE.wgs.final_frame North", "Data PARE.wgs.final_frame East", "Data PARE.wgs.final_frame Up",
          "Data PARE.wns.final_frame North", "Data PARE.wns.final_frame East", "Data PARE.wns.final_frame Up",
          "Data PARE.vms.final_frame North", "Data PARE.vms.final_frame East", "Data PARE.vms.final_frame Up"]

POINTS = [GMF_N, GMF_E, GMF_U, NMF_N, NMF_E, NMF_U, VMF_N, VMF_E, VMF_U]
FITS = [FIT_GMF_N, FIT_GMF_E, FIT_GMF_U, FIT_NMF_N, FIT_NMF_E, FIT_NMF_U, FIT_VMF_N, FIT_VMF_E, FIT_VMF_U]
XTICKS = [TICKS_A] * 3 + [TICKS_B] * 3 + [TICKS_A] * 3

# ---------------- layout (pixels) ----------------
PLOT_L, PLOT_R = 35, 521
TOPS = [21, 146, 271, 397, 524, 650, 777, 902, 1029]
BOTS = [123, 248, 373, 500, 625, 754, 875, 1001, 1134]
XR = [[2000.554, 2005.2]] * 3 + [[2001.866, 2005.141]] * 3 + [[2000.836, 2005.197]] * 3
YR = [[-8.82, 5.05], [-9.05, 5.2], [-15.2, 20.8], [-7.6, 5.4], [-7.8, 5.3], [-11.7, 13.9],
      [-6.9, 7.0], [-6.9, 7.0], [-15.6, 15.5]]
DT = [5, 5, 10, 5, 5, 5, 5, 5, 10]

BG = "#cccccc"
TXT = "#333333"
NB = "\u00a0"

fig = go.Figure()
annotations = []
shapes = []

def py(p):
    return 1 - p / H

for i in range(9):
    k = "" if i == 0 else str(i + 1)
    xa, ya = "x" + k, "y" + k
    pts = POINTS[i]
    fit = FITS[i]
    fx = [p[0] for p in fit]
    fy = [p[1] for p in fit]
    shapes.append(dict(type="line", xref=xa + " domain", yref=ya, x0=0, x1=1, y0=0, y1=0,
                       line=dict(color="#7373e6", width=1.2), layer="below"))
    for s in (SIGMA3[i], -SIGMA3[i]):
        shapes.append(dict(type="line", xref=xa + " domain", yref=ya, x0=0, x1=1, y0=s, y1=s,
                           line=dict(color="#86e086", width=1.6), layer="below"))
    for sgn in (1, -1):
        fig.add_trace(go.Scatter(x=fx, y=[v + sgn * BAND[i] for v in fy], mode="lines",
                                 line=dict(color="#c8584a", width=0.9, shape="spline"),
                                 xaxis=xa, yaxis=ya, showlegend=False, hoverinfo="skip"))
    fig.add_trace(go.Scatter(x=fx, y=fy, mode="lines",
                             line=dict(color="#1a1a1a", width=1.6, shape="spline"),
                             xaxis=xa, yaxis=ya, showlegend=False, hoverinfo="skip"))
    fig.add_trace(go.Scatter(x=[p[0] for p in pts], y=[p[1] for p in pts], mode="markers",
                             marker=dict(color="#1414c8", size=4.2, line=dict(width=0)),
                             xaxis=xa, yaxis=ya, showlegend=False))

    dom_y = [py(BOTS[i]), py(TOPS[i])]
    axis_common = dict(showgrid=False, zeroline=False, showline=True, linecolor="#666666",
                       linewidth=1, mirror="ticks", ticks="inside", ticklen=4, tickwidth=1,
                       tickcolor="#444444", tickfont=dict(family="Liberation Sans, Arial", size=8, color=TXT))
    fig.update_layout(**{
        ("xaxis" + k): dict(domain=[PLOT_L / W, PLOT_R / W], range=XR[i], anchor=ya,
                            tickmode="array", tickvals=XTICKS[i],
                            ticktext=[("%g" % v) for v in XTICKS[i]], **axis_common),
        ("yaxis" + k): dict(domain=dom_y, range=YR[i], anchor=xa, tick0=0, dtick=DT[i],
                            **axis_common),
    })

    hdr = ("WRMS:" + NB * 4 + WRMS[i] + " mm NRMS:" + NB * 2 + NRMS[i] + " #" + NB * 3 + NDATA[i]
           + " data" + NB * 2 + "Rate:" + NB * 4 + RATE[i] + " +-" + NB * 3 + RATE_ERR[i] + " mm/yr")
    annotations.append(dict(text=hdr, x=40 / W, y=py(TOPS[i] - 7), xref="paper", yref="paper",
                            xanchor="left", yanchor="middle", showarrow=False,
                            font=dict(family="Liberation Sans, Arial", size=8.5, color=TXT)))
    annotations.append(dict(text="<b>" + SOURCE[i] + "</b>", x=519 / W, y=py(TOPS[i] - 7),
                            xref="paper", yref="paper", xanchor="right", yanchor="middle",
                            showarrow=False, font=dict(family="Liberation Sans, Arial", size=8, color="#222222")))
    annotations.append(dict(text="<b>" + LABELS[i] + "</b>", x=282 / W, y=py(BOTS[i] - 15),
                            xref="paper", yref="paper", xanchor="center", yanchor="middle",
                            showarrow=False,
                            font=dict(family="Liberation Serif, Times New Roman", size=18.5, color="#000000")))
    annotations.append(dict(text="Position (mm)", x=15 / W, y=py((TOPS[i] + BOTS[i]) / 2),
                            xref="paper", yref="paper", xanchor="center", yanchor="middle",
                            textangle=-90, showarrow=False,
                            font=dict(family="Liberation Sans, Arial", size=8.5, color="#6a6a6a")))

fig.update_layout(width=W, height=H, autosize=False, margin=dict(l=0, r=0, t=0, b=0),
                  paper_bgcolor=BG, plot_bgcolor="#ffffff", annotations=annotations,
                  shapes=shapes, showlegend=False)

fig.write_html("out.html")
